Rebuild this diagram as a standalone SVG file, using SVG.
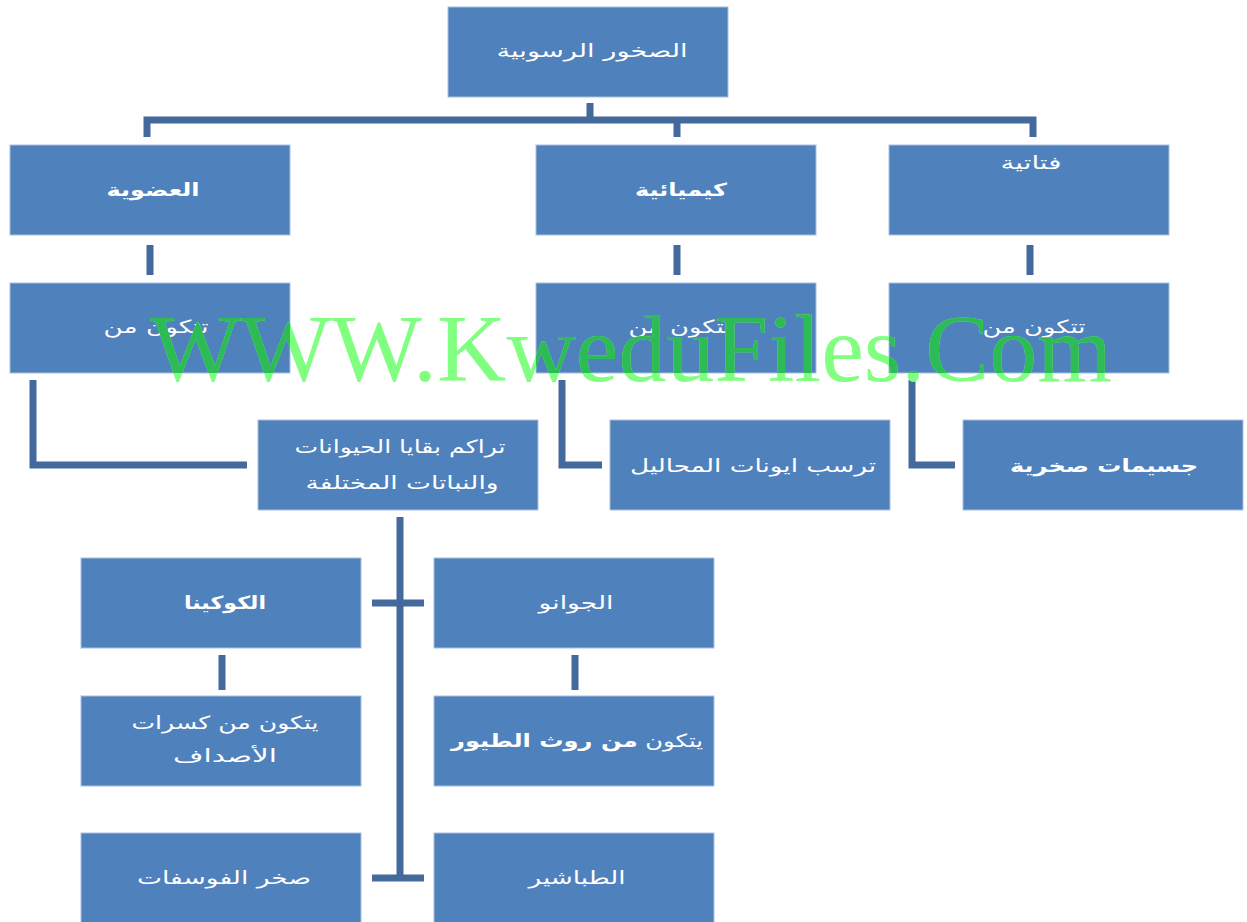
<svg xmlns="http://www.w3.org/2000/svg" width="1247" height="922" viewBox="0 0 1247 922">
<style>
.box{fill:#4F81BD;stroke:#A9C0E0;stroke-width:1}
.t{fill:#ffffff;font-family:"DejaVu Sans",sans-serif;font-size:18px;text-anchor:middle;direction:rtl}
.b{font-weight:bold}
.c{stroke:#44699C;fill:none;stroke-width:7}
.w{font-family:"Liberation Serif",serif;font-size:95px}
</style>
<defs>
<clipPath id="boxes">
<rect x="448" y="7" width="280" height="90"/>
<rect x="10" y="145" width="280" height="90"/>
<rect x="536" y="145" width="280" height="90"/>
<rect x="889" y="145" width="280" height="90"/>
<rect x="10" y="283" width="280" height="90"/>
<rect x="536" y="283" width="280" height="90"/>
<rect x="889" y="283" width="280" height="90"/>
</clipPath>
</defs>
<rect width="1247" height="922" fill="#ffffff"/>
<g id="connectors">
<path class="c" d="M590 103V120M147 137V120H1033V137M677 120V137"/>
<path class="c" d="M150 245V275M677 245V275M1030 245V275"/>
<path class="c" stroke-width="8" d="M33 380V465H247"/>
<path class="c" stroke-width="8" d="M562 380V465H602"/>
<path class="c" stroke-width="8" d="M912 380V465H955"/>
<path class="c" stroke-width="10" d="M400 517V880"/>
<path class="c" d="M372 603H424M372 878H424"/>
<path class="c" d="M222 655V690M575 655V690"/>
</g>
<g id="n-root"><rect class="box" x="448" y="7" width="280" height="90"/><text class="t" x="592" y="57" textLength="191" lengthAdjust="spacingAndGlyphs">الصخور الرسوبية</text></g>
<g id="n-organic"><rect class="box" x="10" y="145" width="280" height="90"/><text class="t b" x="153" y="196" textLength="93" lengthAdjust="spacingAndGlyphs">العضوية</text></g>
<g id="n-chemical"><rect class="box" x="536" y="145" width="280" height="90"/><text class="t b" x="681" y="196" textLength="92" lengthAdjust="spacingAndGlyphs">كيميائية</text></g>
<g id="n-clastic"><rect class="box" x="889" y="145" width="280" height="90"/><text class="t" x="1031" y="169" textLength="61" lengthAdjust="spacingAndGlyphs">فتاتية</text></g>
<g id="n-organic-made"><rect class="box" x="10" y="283" width="280" height="90"/><text class="t" x="156" y="333" textLength="105" lengthAdjust="spacingAndGlyphs">تتكون من</text></g>
<g id="n-chemical-made"><rect class="box" x="536" y="283" width="280" height="90"/><text class="t" x="680" y="333" textLength="103" lengthAdjust="spacingAndGlyphs">تتكون من</text></g>
<g id="n-clastic-made"><rect class="box" x="889" y="283" width="280" height="90"/><text class="t" x="1034" y="333" textLength="103" lengthAdjust="spacingAndGlyphs">تتكون من</text></g>
<g id="n-remains"><rect class="box" x="258" y="420" width="280" height="90"/><text class="t" x="400" y="453" textLength="211" lengthAdjust="spacingAndGlyphs">تراكم بقايا الحيوانات</text><text class="t" x="402" y="489" textLength="193" lengthAdjust="spacingAndGlyphs">والنباتات المختلفة</text></g>
<g id="n-ions"><rect class="box" x="610" y="420" width="280" height="90"/><text class="t" x="753" y="472" textLength="246" lengthAdjust="spacingAndGlyphs">ترسب ايونات المحاليل</text></g>
<g id="n-particles"><rect class="box" x="963" y="420" width="280" height="90"/><text class="t b" x="1104" y="472" font-size="19" textLength="188" lengthAdjust="spacingAndGlyphs">جسيمات صخرية</text></g>
<g id="n-coquina"><rect class="box" x="81" y="558" width="280" height="90"/><text class="t b" x="225" y="609" textLength="82" lengthAdjust="spacingAndGlyphs">الكوكينا</text></g>
<g id="n-guano"><rect class="box" x="434" y="558" width="280" height="90"/><text class="t" x="576" y="609" textLength="75" lengthAdjust="spacingAndGlyphs">الجوانو</text></g>
<g id="n-shells"><rect class="box" x="81" y="696" width="280" height="90"/><text class="t" x="225" y="729" textLength="187" lengthAdjust="spacingAndGlyphs">يتكون من كسرات</text><text class="t" x="225" y="762" textLength="104" lengthAdjust="spacingAndGlyphs">الأصداف</text></g>
<g id="n-droppings"><rect class="box" x="434" y="696" width="280" height="90"/><text class="t" x="577" y="747" textLength="252" lengthAdjust="spacingAndGlyphs">يتكون <tspan class="b">من روث الطيور</tspan></text></g>
<g id="n-phosphate"><rect class="box" x="81" y="833" width="280" height="95"/><text class="t" x="224" y="884" textLength="174" lengthAdjust="spacingAndGlyphs">صخر الفوسفات</text></g>
<g id="n-chalk"><rect class="box" x="434" y="833" width="280" height="95"/><text class="t" x="577" y="884" textLength="97" lengthAdjust="spacingAndGlyphs">الطباشير</text></g>
<g id="watermark">
<text class="w" x="150" y="381" fill="#80FF80" textLength="962" lengthAdjust="spacingAndGlyphs">WWW.KweduFiles.Com</text>
<text class="w" x="150" y="381" fill="#2DBB55" clip-path="url(#boxes)" textLength="962" lengthAdjust="spacingAndGlyphs">WWW.KweduFiles.Com</text>
</g>
</svg>
